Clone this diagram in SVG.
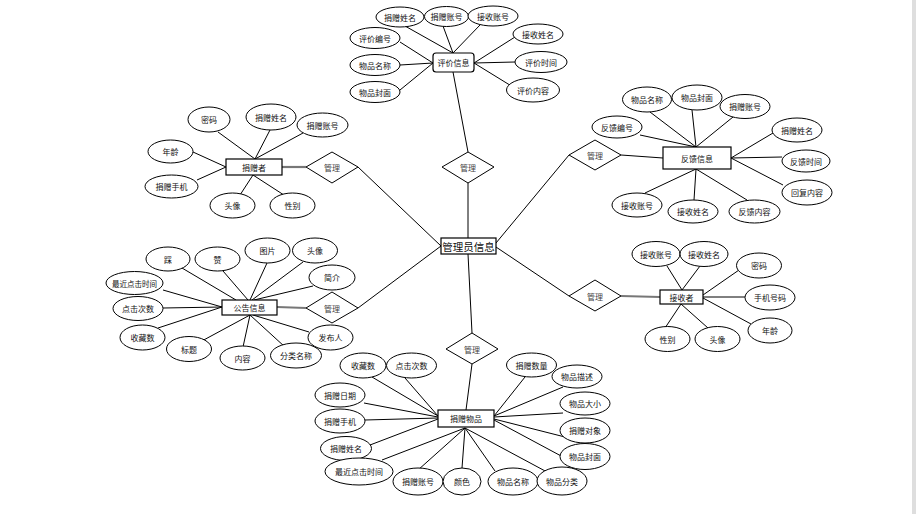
<svg xmlns="http://www.w3.org/2000/svg" width="916" height="514" viewBox="0 0 916 514">
<style>
.e{fill:#fff;stroke:#000;stroke-width:1}
.b{fill:#fff;stroke:#000;stroke-width:1.2}
.d{fill:#fff;stroke:#000;stroke-width:1}
.l{stroke:#000;stroke-width:1;fill:none}
.t{stroke:#777;stroke-width:2.2;fill:none}
text{font-family:"Noto Sans CJK SC","Liberation Sans",sans-serif;font-size:8px;fill:#111;text-anchor:middle;dominant-baseline:central}
.m{fill:#444}
.big{font-size:10.5px}
.s{font-size:7.5px}
</style>
<rect width="916" height="514" fill="#fff"/>
<rect x="912" y="0" width="4" height="514" fill="#dedede"/>
<g id="connectors">
<line class="l" x1="405" y1="26" x2="453" y2="53"/>
<line class="l" x1="443" y1="26" x2="453" y2="53"/>
<line class="l" x1="480" y1="25" x2="453" y2="53"/>
<line class="l" x1="400" y1="42" x2="433" y2="63"/>
<line class="l" x1="400" y1="65" x2="433" y2="63"/>
<line class="l" x1="400" y1="90" x2="433" y2="63"/>
<line class="l" x1="515" y1="37" x2="474" y2="63"/>
<line class="l" x1="515" y1="62" x2="474" y2="63"/>
<line class="l" x1="513" y1="87" x2="474" y2="63"/>
<line class="l" x1="453" y1="72" x2="468" y2="152"/>
<line class="l" x1="468" y1="183" x2="468" y2="238"/>
<line class="l" x1="358" y1="167" x2="441" y2="246"/>
<line class="l" x1="358" y1="308" x2="441" y2="246"/>
<line class="l" x1="569" y1="155" x2="496" y2="243"/>
<line class="l" x1="569" y1="296" x2="496" y2="247"/>
<line class="l" x1="468" y1="254" x2="472" y2="333"/>
<line class="l" x1="621" y1="155" x2="663" y2="158"/>
<line class="l" x1="650" y1="112" x2="696" y2="147"/>
<line class="l" x1="692" y1="110" x2="696" y2="147"/>
<line class="l" x1="733" y1="117" x2="696" y2="147"/>
<line class="l" x1="640" y1="135" x2="696" y2="147"/>
<line class="l" x1="773" y1="133" x2="731" y2="158"/>
<line class="l" x1="782" y1="157" x2="731" y2="158"/>
<line class="l" x1="783" y1="185" x2="731" y2="158"/>
<line class="l" x1="645" y1="193" x2="696" y2="169"/>
<line class="l" x1="694" y1="200" x2="696" y2="169"/>
<line class="l" x1="747" y1="200" x2="696" y2="169"/>
<line class="t" x1="282" y1="167" x2="306" y2="167"/>
<line class="l" x1="218" y1="132" x2="255" y2="159"/>
<line class="l" x1="270" y1="130" x2="255" y2="159"/>
<line class="l" x1="303" y1="133" x2="255" y2="159"/>
<line class="l" x1="193" y1="152" x2="226" y2="167"/>
<line class="l" x1="197" y1="180" x2="226" y2="167"/>
<line class="l" x1="240" y1="195" x2="253" y2="175"/>
<line class="l" x1="287" y1="197" x2="253" y2="175"/>
<line class="t" x1="277" y1="307" x2="306" y2="308"/>
<line class="l" x1="182" y1="268" x2="236" y2="300"/>
<line class="l" x1="223" y1="271" x2="248" y2="300"/>
<line class="l" x1="267" y1="263" x2="250" y2="300"/>
<line class="l" x1="303" y1="262" x2="252" y2="300"/>
<line class="l" x1="313" y1="286" x2="254" y2="300"/>
<line class="l" x1="163" y1="290" x2="222" y2="307"/>
<line class="l" x1="163" y1="308" x2="222" y2="307"/>
<line class="l" x1="158" y1="328" x2="222" y2="307"/>
<line class="l" x1="200" y1="342" x2="250" y2="315"/>
<line class="l" x1="243" y1="347" x2="250" y2="315"/>
<line class="l" x1="285" y1="347" x2="250" y2="315"/>
<line class="l" x1="309" y1="332" x2="253" y2="315"/>
<line class="t" x1="621" y1="296" x2="660" y2="297"/>
<line class="l" x1="667" y1="266" x2="682" y2="290"/>
<line class="l" x1="700" y1="266" x2="682" y2="290"/>
<line class="l" x1="739" y1="270" x2="703" y2="295"/>
<line class="l" x1="745" y1="297" x2="703" y2="297"/>
<line class="l" x1="751" y1="324" x2="703" y2="298"/>
<line class="l" x1="665" y1="328" x2="681" y2="304"/>
<line class="l" x1="708" y1="328" x2="681" y2="304"/>
<line class="l" x1="466" y1="410" x2="472" y2="364"/>
<line class="l" x1="372" y1="377" x2="438" y2="416"/>
<line class="l" x1="405" y1="378" x2="438" y2="416"/>
<line class="l" x1="364" y1="403" x2="438" y2="417"/>
<line class="l" x1="365" y1="420" x2="438" y2="418"/>
<line class="l" x1="370" y1="445" x2="438" y2="419"/>
<line class="l" x1="382" y1="460" x2="465" y2="428"/>
<line class="l" x1="418" y1="470" x2="465" y2="428"/>
<line class="l" x1="462" y1="468" x2="465" y2="428"/>
<line class="l" x1="495" y1="471" x2="465" y2="428"/>
<line class="l" x1="547" y1="472" x2="465" y2="428"/>
<line class="l" x1="525" y1="377" x2="494" y2="416"/>
<line class="l" x1="563" y1="387" x2="494" y2="416"/>
<line class="l" x1="563" y1="413" x2="494" y2="417"/>
<line class="l" x1="565" y1="437" x2="494" y2="419"/>
<line class="l" x1="563" y1="457" x2="494" y2="420"/>
</g>

<g id="admin">
<rect class="b" x="441" y="238" width="55" height="16"/>
<text class="big" x="468.5" y="246">管理员信息</text>
</g>

<g id="manage-top"><polygon class="d" points="442,167 468,152 494,167 468,183"/><text class="m" x="468" y="167">管理</text></g>
<g id="manage-ul"><polygon class="d" points="306,167 332,152 358,167 332,183"/><text class="m" x="332" y="167">管理</text></g>
<g id="manage-ll"><polygon class="d" points="306,308 332,292 358,308 332,323"/><text class="m" x="332" y="308">管理</text></g>
<g id="manage-ur"><polygon class="d" points="569,155 595,140 621,155 595,170"/><text class="m" x="595" y="155">管理</text></g>
<g id="manage-lr"><polygon class="d" points="569,296 595,280 621,296 595,311"/><text class="m" x="595" y="296">管理</text></g>
<g id="manage-bottom"><polygon class="d" points="446,349 472,333 498,349 472,364"/><text class="m" x="472" y="349">管理</text></g>

<g id="evaluation">
<rect class="b" x="433" y="53" width="41" height="19" rx="3"/>
<text x="453.5" y="62.5">评价信息</text>
</g>
<g id="ev-attrs">
<ellipse class="e" cx="400" cy="17" rx="24" ry="10"/><text x="400" y="17">捐赠姓名</text>
<ellipse class="e" cx="446.5" cy="16.5" rx="22" ry="10"/><text x="446.5" y="16.5">捐赠账号</text>
<ellipse class="e" cx="493" cy="16" rx="25" ry="10"/><text x="493" y="16">接收账号</text>
<ellipse class="e" cx="375" cy="38" rx="25" ry="10.5"/><text x="375" y="38">评价编号</text>
<ellipse class="e" cx="375" cy="65" rx="25" ry="10.5"/><text x="375" y="65">物品名称</text>
<ellipse class="e" cx="375" cy="92" rx="25" ry="10.5"/><text x="375" y="92">物品封面</text>
<ellipse class="e" cx="538" cy="34" rx="25" ry="10"/><text x="538" y="34">接收姓名</text>
<ellipse class="e" cx="541" cy="62" rx="26" ry="10.5"/><text x="541" y="62">评价时间</text>
<ellipse class="e" cx="533" cy="90" rx="26.5" ry="12"/><text x="533" y="90">评价内容</text>
</g>

<g id="feedback">
<rect class="b" x="663" y="147" width="68" height="22"/>
<text x="697" y="158">反馈信息</text>
</g>
<g id="fb-attrs">
<ellipse class="e" cx="647" cy="99.5" rx="24.5" ry="12.5"/><text x="647" y="99.5">物品名称</text>
<ellipse class="e" cx="697" cy="97.5" rx="25" ry="12.5"/><text x="697" y="97.5">物品封面</text>
<ellipse class="e" cx="745" cy="106.5" rx="25" ry="12"/><text x="745" y="106.5">捐赠账号</text>
<ellipse class="e" cx="617" cy="127" rx="25" ry="11"/><text x="617" y="127">反馈编号</text>
<ellipse class="e" cx="797" cy="130" rx="25" ry="12"/><text x="797" y="130">捐赠姓名</text>
<ellipse class="e" cx="806" cy="161" rx="24" ry="11"/><text x="806" y="161">反馈时间</text>
<ellipse class="e" cx="807" cy="192.5" rx="25" ry="12.5"/><text x="807" y="192.5">回复内容</text>
<ellipse class="e" cx="637" cy="205" rx="25" ry="12"/><text x="637" y="205">接收账号</text>
<ellipse class="e" cx="693" cy="211.5" rx="25" ry="11.5"/><text x="693" y="211.5">接收姓名</text>
<ellipse class="e" cx="754.5" cy="211.5" rx="25.5" ry="11.5"/><text x="754.5" y="211.5">反馈内容</text>
</g>

<g id="donor">
<rect class="b" x="226" y="159" width="56" height="16"/>
<text x="254" y="167">捐赠者</text>
</g>
<g id="donor-attrs">
<ellipse class="e" cx="209" cy="119.5" rx="21" ry="12.5"/><text x="209" y="119.5">密码</text>
<ellipse class="e" cx="271" cy="117" rx="25" ry="13"/><text x="271" y="117">捐赠姓名</text>
<ellipse class="e" cx="322.5" cy="125" rx="25.5" ry="12"/><text x="322.5" y="125">捐赠账号</text>
<ellipse class="e" cx="170.5" cy="151.5" rx="22.5" ry="11.5"/><text x="170.5" y="151.5">年龄</text>
<ellipse class="e" cx="171.5" cy="186.5" rx="26.5" ry="11.5"/><text x="171.5" y="186.5">捐赠手机</text>
<ellipse class="e" cx="232.5" cy="205.5" rx="22.5" ry="12.5"/><text x="232.5" y="205.5">头像</text>
<ellipse class="e" cx="292.5" cy="205.5" rx="22.5" ry="12.5"/><text x="292.5" y="205.5">性别</text>
</g>

<g id="notice">
<rect class="b" x="222" y="300" width="55" height="15"/>
<text x="249.5" y="307.5">公告信息</text>
</g>
<g id="notice-attrs">
<ellipse class="e" cx="168" cy="259" rx="22" ry="12"/><text x="168" y="259">踩</text>
<ellipse class="e" cx="217.5" cy="259" rx="22.5" ry="12"/><text x="217.5" y="259">赞</text>
<ellipse class="e" cx="267.5" cy="250.5" rx="22.5" ry="12.5"/><text x="267.5" y="250.5">图片</text>
<ellipse class="e" cx="315" cy="250.5" rx="22.5" ry="12.5"/><text x="315" y="250.5">头像</text>
<ellipse class="e" cx="332" cy="277.5" rx="23" ry="12.5"/><text x="332" y="277.5">简介</text>
<ellipse class="e" cx="134.5" cy="283" rx="28.5" ry="11.5"/><text class="s" x="134.5" y="283">最近点击时间</text>
<ellipse class="e" cx="138" cy="308.5" rx="25" ry="12"/><text x="138" y="308.5">点击次数</text>
<ellipse class="e" cx="142.5" cy="337.5" rx="22.5" ry="12.5"/><text x="142.5" y="337.5">收藏数</text>
<ellipse class="e" cx="189" cy="349" rx="22.5" ry="12.5"/><text x="189" y="349">标题</text>
<ellipse class="e" cx="242.5" cy="358" rx="22.5" ry="12"/><text x="242.5" y="358">内容</text>
<ellipse class="e" cx="296" cy="355.5" rx="25.5" ry="12.5"/><text x="296" y="355.5">分类名称</text>
<ellipse class="e" cx="330.5" cy="337.5" rx="22.5" ry="12.5"/><text x="330.5" y="337.5">发布人</text>
</g>

<g id="receiver">
<rect class="b" x="660" y="290" width="43" height="14"/>
<text x="681.5" y="297">接收者</text>
</g>
<g id="receiver-attrs">
<ellipse class="e" cx="656" cy="254" rx="24" ry="12.5"/><text x="656" y="254">接收账号</text>
<ellipse class="e" cx="704" cy="254" rx="24" ry="12.5"/><text x="704" y="254">接收姓名</text>
<ellipse class="e" cx="759" cy="265.5" rx="22.5" ry="12.5"/><text x="759" y="265.5">密码</text>
<ellipse class="e" cx="770" cy="297.5" rx="25" ry="12.5"/><text x="770" y="297.5">手机号码</text>
<ellipse class="e" cx="770" cy="330.5" rx="22" ry="12.5"/><text x="770" y="330.5">年龄</text>
<ellipse class="e" cx="667.5" cy="339" rx="22.5" ry="12.5"/><text x="667.5" y="339">性别</text>
<ellipse class="e" cx="717.5" cy="339" rx="22.5" ry="12.5"/><text x="717.5" y="339">头像</text>
</g>

<g id="goods">
<rect class="b" x="438" y="410" width="56" height="17"/>
<text x="466" y="418.5">捐赠物品</text>
</g>
<g id="goods-attrs">
<ellipse class="e" cx="363" cy="365.5" rx="23" ry="12.5"/><text x="363" y="365.5">收藏数</text>
<ellipse class="e" cx="411.5" cy="365.5" rx="25" ry="12.5"/><text x="411.5" y="365.5">点击次数</text>
<ellipse class="e" cx="340" cy="395" rx="25" ry="12"/><text x="340" y="395">捐赠日期</text>
<ellipse class="e" cx="340" cy="421" rx="25" ry="12"/><text x="340" y="421">捐赠手机</text>
<ellipse class="e" cx="346" cy="448.5" rx="25.5" ry="12"/><text x="346" y="448.5">捐赠姓名</text>
<ellipse class="e" cx="359" cy="471.5" rx="34" ry="13.5"/><text x="359" y="471.5">最近点击时间</text>
<ellipse class="e" cx="418" cy="481.5" rx="25" ry="13.5"/><text x="418" y="481.5">捐赠账号</text>
<ellipse class="e" cx="462" cy="481.5" rx="19" ry="13.5"/><text x="462" y="481.5">颜色</text>
<ellipse class="e" cx="513" cy="481.5" rx="25" ry="13.5"/><text x="513" y="481.5">物品名称</text>
<ellipse class="e" cx="562" cy="481" rx="25" ry="14"/><text x="562" y="481">物品分类</text>
<ellipse class="e" cx="531.5" cy="365" rx="25" ry="12"/><text x="531.5" y="365">捐赠数量</text>
<ellipse class="e" cx="577" cy="376.5" rx="25" ry="11.5"/><text x="577" y="376.5">物品描述</text>
<ellipse class="e" cx="585" cy="403.5" rx="25" ry="11.5"/><text x="585" y="403.5">物品大小</text>
<ellipse class="e" cx="585" cy="430.5" rx="25" ry="12.5"/><text x="585" y="430.5">捐赠对象</text>
<ellipse class="e" cx="585" cy="456.5" rx="25" ry="13"/><text x="585" y="456.5">物品封面</text>
</g>
</svg>
